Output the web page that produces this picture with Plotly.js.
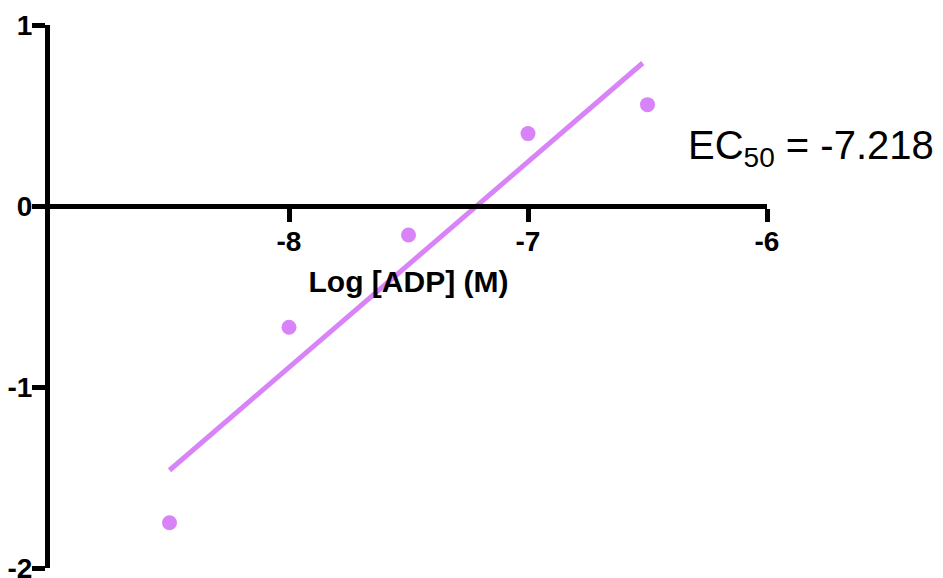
<!DOCTYPE html>
<html>
<head>
<meta charset="utf-8">
<script src="https://cdn.plot.ly/plotly-3.0.1.min.js"></script>
<style>html,body{margin:0;padding:0;background:#fff;}#chart{width:943px;height:578px;}</style>
</head>
<body>
<div id="chart"></div>
<script>
// Data
const logADP = [-8.5, -8, -7.5, -7, -6.5];
const response = [-1.75, -0.67, -0.16, 0.40, 0.56];
const fitX = [-8.5, -6.52];
const fitY = [-1.46, 0.79];
const xTickVals = [-8, -7, -6];
const xTickText = ["-8", "-7", "-6"];
const yTickVals = [1, 0, -1, -2];
const yTickText = ["1", "0", "-1", "-2"];
const ec50Label = "EC<sub>50</sub> = -7.218";

const purple = '#d883f7';
const fontFam = 'Liberation Sans, Arial, sans-serif';

const traces = [
  {x: fitX, y: fitY, mode: 'lines', line: {color: purple, width: 5}, hoverinfo: 'skip', showlegend: false},
  {x: logADP, y: response, mode: 'markers', marker: {color: purple, size: 15}, showlegend: false, cliponaxis: false}
];

const layout = {
  width: 943, height: 578,
  margin: {l: 50, r: 176, t: 25, b: 10},
  paper_bgcolor: '#fff', plot_bgcolor: '#fff',
  showlegend: false,
  xaxis: {
    range: [-9, -6], anchor: 'free', position: 2/3,
    showgrid: false, zeroline: false,
    showline: true, linecolor: '#000', linewidth: 5,
    ticks: 'outside', ticklen: 13, tickwidth: 5, tickcolor: '#000',
    tickmode: 'array', tickvals: xTickVals, ticktext: xTickText,
    ticklabeloverflow: 'allow', ticklabelstandoff: -5,
    tickfont: {family: fontFam, size: 28, color: '#000', weight: 'bold'},
    title: {text: 'Log [ADP] (M)', font: {family: fontFam, size: 30, color: '#000', weight: 'bold'}, standoff: 15}
  },
  yaxis: {
    range: [-2, 1],
    showgrid: false, zeroline: false,
    showline: true, linecolor: '#000', linewidth: 5,
    ticks: 'outside', ticklen: 13, tickwidth: 5, tickcolor: '#000',
    tickmode: 'array', tickvals: yTickVals, ticktext: yTickText,
    ticklabeloverflow: 'allow', ticklabelstandoff: -6,
    tickfont: {family: fontFam, size: 28, color: '#000', weight: 'bold'}
  },
  annotations: [{
    xref: 'paper', yref: 'y', x: 0.887, y: 0.32, xanchor: 'left', yanchor: 'middle',
    text: ec50Label, showarrow: false,
    font: {family: fontFam, size: 40, color: '#000'}
  }]
};

Plotly.newPlot('chart', traces, layout, {displayModeBar: false, staticPlot: true});
</script>
</body>
</html>
